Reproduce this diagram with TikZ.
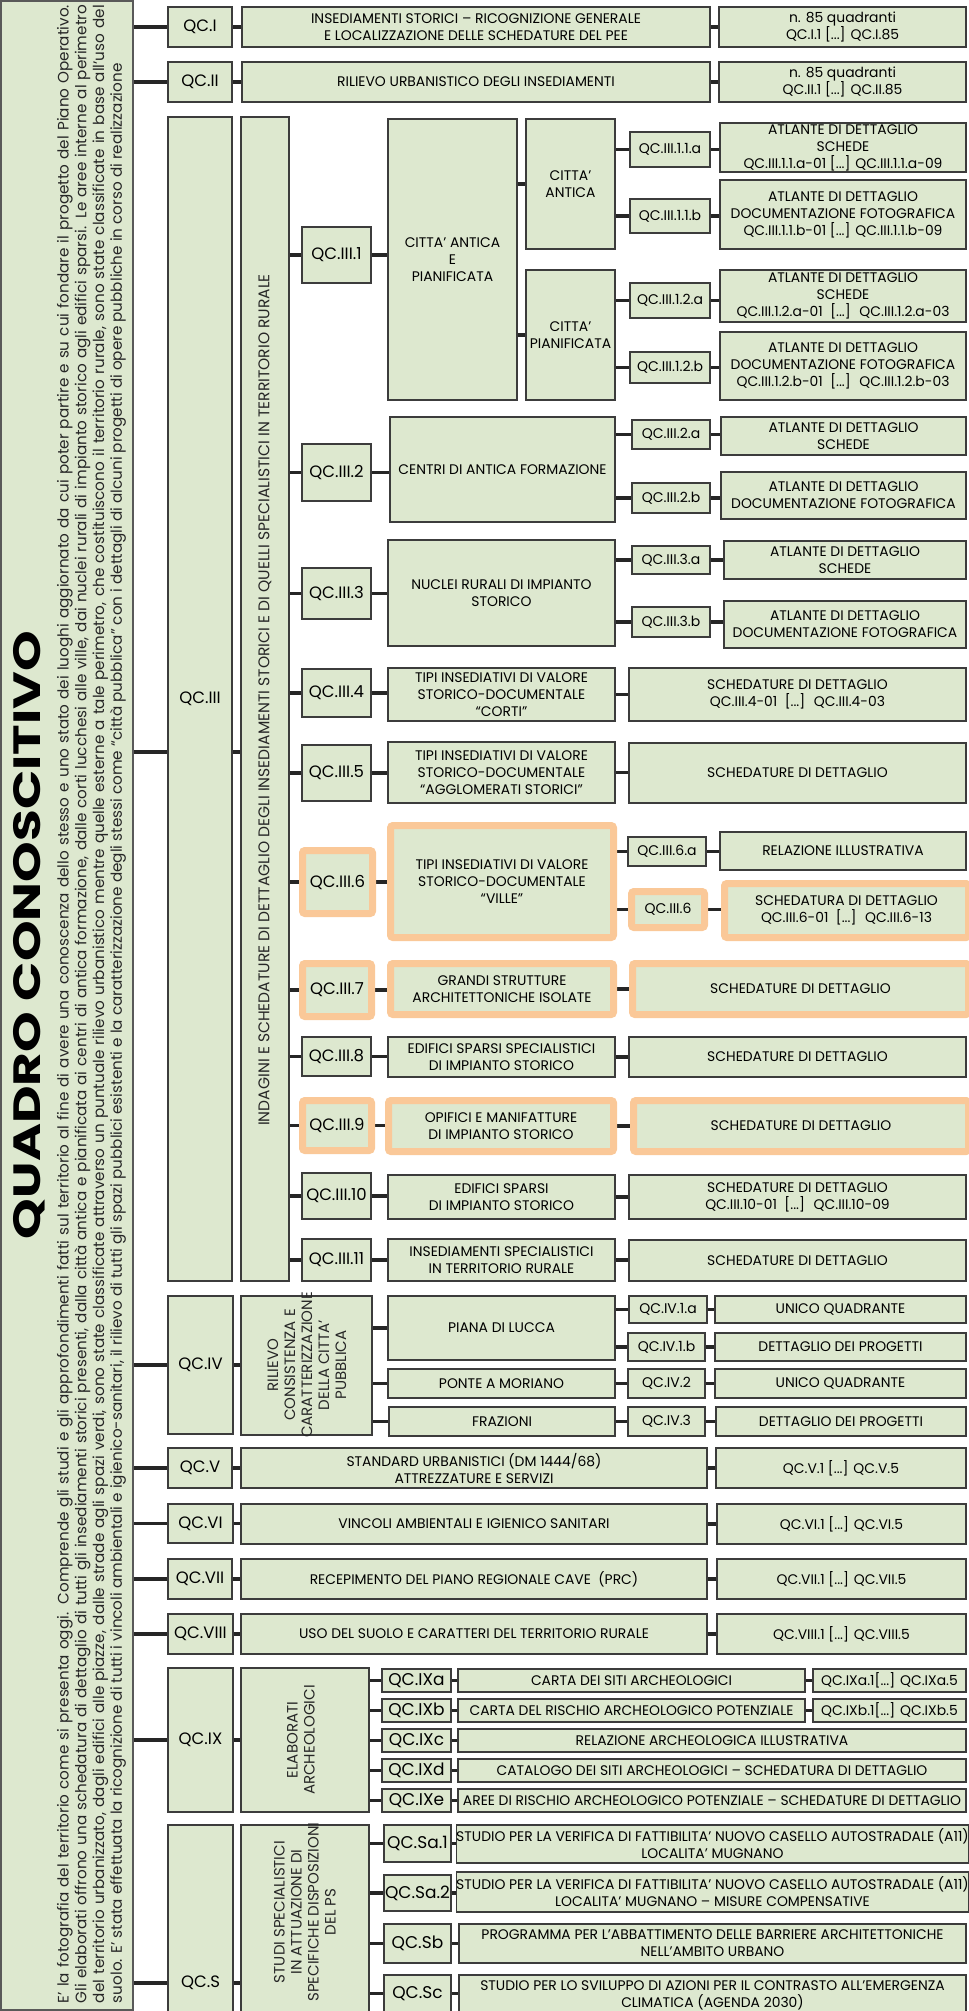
\documentclass[tikz,border=0pt]{standalone}
\usepackage{fontspec}
\setmainfont{Poppins}
\newfontfamily\qtitlefont[FakeStretch=1.36]{Poppins}
\usetikzlibrary{backgrounds}
\definecolor{sage}{HTML}{DDE8CF}
\definecolor{peach}{HTML}{FAC898}
\definecolor{edgegray}{HTML}{3C3C3C}
\newcommand{\qtxt}{\fontsize{13.9}{17}\selectfont}
\newcommand{\qlab}{\fontsize{16.5}{18}\selectfont}
\newcommand{\qsub}{\fontsize{14}{16}\selectfont}
\newcommand{\qbig}{\fontsize{17}{18}\selectfont}
\newcommand{\qvtxt}{\fontsize{15}{17}\selectfont}
\newcommand{\qpar}{\fontsize{15.2}{17.7}\selectfont}
% box from corner (x1,y1) to corner (x2,y2)
\newcommand{\qbox}[7][]{\node[box,minimum width={(#5-#3)*1pt},minimum height={(#6-#4)*1pt},#1] (#2) at ({(#3+#5)/2},{(#4+#6)/2}) {#7};}

\begin{document}
\begin{tikzpicture}[x=1pt,y=-1pt]
	\tikzset{box/.style={draw=edgegray,line width=1.1pt,fill=sage,inner sep=0pt,outer sep=0pt,align=center,font=\qtxt}}
	\tikzset{hl/.style={draw=peach,line width=7pt,rounded corners=2.5pt}}
	\tikzset{lab/.style={font=\qlab}}
	\tikzset{sublab/.style={font=\qsub}}
	\tikzset{biglab/.style={font=\qbig}}
	\tikzset{link/.style={line width=3.5pt,draw=black!85}}
	\tikzset{vtext/.style={rotate=90,align=center,font=\qvtxt,text=black!85}}

	\useasboundingbox (0,0) rectangle (969,2011);
	\clip (0,0) rectangle (969,2011);

	% left panel
	\qbox[draw=gray!70!black,line width=1.2pt]{intro}{1}{1}{133}{2010}{}
	\node[rotate=90,font=\qtitlefont\bfseries\fontsize{38}{38}\selectfont] (title) at (29,935) {QUADRO CONOSCITIVO};
	\node[rotate=90,text width=1998pt,align=justify,font=\qpar,text=black!85,inner sep=0pt] (introtxt) at (91.5,1004)
		{E' la fotografia del territorio come si presenta oggi. Comprende gli studi e gli approfondimenti fatti sul territorio al fine di avere una conoscenza dello stesso e uno stato dei luoghi aggiornato da cui poter partire e su cui fondare il progetto del Piano Operativo.\linebreak
		Gli elaborati offrono una schedatura di dettaglio di tutti gli insediamenti storici presenti, dalla città antica e pianificata ai centri di antica formazione, dalle corti lucchesi alle ville, dai nuclei rurali di impianto storico agli edifici sparsi. Le aree interne al perimetro\linebreak
		del territorio urbanizzato, dagli edifici alle piazze, dalle strade agli spazi verdi, sono state classificate attraverso un puntuale rilievo urbanistico mentre quelle esterne a tale perimetro, che costituiscono il territorio rurale, sono state classificate in base all'uso del\linebreak
		suolo. E' stata effettuata la ricognizione di tutti i vincoli ambientali e igienico-sanitari, il rilievo di tutti gli spazi pubblici esistenti e la caratterizzazione degli stessi come ``città pubblica'' con i dettagli di alcuni progetti di opere pubbliche in corso di realizzazione};

	% QC.I and QC.II
	\qbox[lab]{qI}{168}{7}{232}{47}{QC.I}
	\qbox{dI}{242}{7}{710}{47}{INSEDIAMENTI STORICI – RICOGNIZIONE GENERALE\\E LOCALIZZAZIONE DELLE SCHEDATURE DEL PEE}
	\qbox{oI}{719}{7}{966}{47}{n. 85 quadranti\\QC.I.1 [...] QC.I.85}
	\qbox[lab]{qII}{168}{62}{232}{102}{QC.II}
	\qbox{dII}{242}{62}{710}{102}{RILIEVO URBANISTICO DEGLI INSEDIAMENTI}
	\qbox{oII}{719}{62}{966}{102}{n. 85 quadranti\\QC.II.1 [...] QC.II.85}

	% QC.III
	\qbox[lab]{qIII}{168}{117}{232}{1281}{QC.III}
	\qbox{ind}{241}{117}{289}{1281}{}
	\node[vtext,font=\fontsize{15.5}{16}\selectfont] (indtxt) at (265,700) {INDAGINI E SCHEDATURE DI DETTAGLIO DEGLI INSEDIAMENTI STORICI E DI QUELLI SPECIALISTICI IN TERRITORIO RURALE};
	\coordinate (jIII) at (150,752);

	\qbox[lab]{q3n1}{302}{227}{371}{283}{QC.III.1}
	\qbox{caep}{388}{119}{517}{400}{CITTA' ANTICA\\E\\PIANIFICATA}
	\qbox{ca}{526}{119}{615}{249}{CITTA'\\ANTICA}
	\qbox{cp}{526}{270}{615}{400}{CITTA'\\PIANIFICATA}
	\qbox[sublab]{q3n1aa}{630}{132}{710}{167}{QC.III.1.1.a}
	\qbox[sublab]{q3n1ab}{630}{199}{710}{233}{QC.III.1.1.b}
	\qbox[sublab]{q3n1ba}{630}{283}{710}{318}{QC.III.1.2.a}
	\qbox[sublab]{q3n1bb}{630}{352}{710}{383}{QC.III.1.2.b}
	\qbox{o3n1aa}{720}{123}{966}{172}{ATLANTE DI DETTAGLIO\\SCHEDE\\QC.III.1.1.a-01 [...] QC.III.1.1.a-09}
	\qbox{o3n1ab}{720}{180}{966}{249}{ATLANTE DI DETTAGLIO\\DOCUMENTAZIONE FOTOGRAFICA\\QC.III.1.1.b-01 [...] QC.III.1.1.b-09}
	\qbox{o3n1ba}{720}{270}{966}{322}{ATLANTE DI DETTAGLIO\\SCHEDE\\QC.III.1.2.a-01 \ [...] \ QC.III.1.2.a-03}
	\qbox{o3n1bb}{720}{332}{966}{400}{ATLANTE DI DETTAGLIO\\DOCUMENTAZIONE FOTOGRAFICA\\QC.III.1.2.b-01 \ [...] \ QC.III.1.2.b-03}

	\qbox[lab]{q3n2}{302}{444}{371}{501}{QC.III.2}
	\qbox{centri}{390}{417}{615}{522}{CENTRI DI ANTICA FORMAZIONE}
	\qbox[sublab]{q3n2a}{632}{420}{710}{449}{QC.III.2.a}
	\qbox[sublab]{q3n2b}{632}{483}{710}{513}{QC.III.2.b}
	\qbox{o3n2a}{721}{417}{966}{455}{ATLANTE DI DETTAGLIO\\SCHEDE}
	\qbox{o3n2b}{721}{472}{966}{519}{ATLANTE DI DETTAGLIO\\DOCUMENTAZIONE FOTOGRAFICA}

	\qbox[lab]{q3n3}{302}{568}{371}{619}{QC.III.3}
	\qbox{nuclei}{388}{540}{615}{646}{NUCLEI RURALI DI IMPIANTO\\STORICO}
	\qbox[sublab]{q3n3a}{632}{546}{710}{574}{QC.III.3.a}
	\qbox[sublab]{q3n3b}{632}{607}{710}{637}{QC.III.3.b}
	\qbox{o3n3a}{724}{541}{966}{579}{ATLANTE DI DETTAGLIO\\SCHEDE}
	\qbox{o3n3b}{724}{601}{966}{648}{ATLANTE DI DETTAGLIO\\DOCUMENTAZIONE FOTOGRAFICA}

	\qbox[lab]{q3n4}{302}{669}{371}{717}{QC.III.4}
	\qbox{tipi4}{388}{668}{615}{721}{TIPI INSEDIATIVI DI VALORE\\STORICO-DOCUMENTALE\\“CORTI”}
	\qbox{o3n4}{629}{668}{966}{721}{SCHEDATURE DI DETTAGLIO\\QC.III.4-01 \ [...] \ QC.III.4-03}

	\qbox[lab]{q3n5}{302}{745}{371}{801}{QC.III.5}
	\qbox{tipi5}{388}{742}{615}{803}{TIPI INSEDIATIVI DI VALORE\\STORICO-DOCUMENTALE\\“AGGLOMERATI STORICI”}
	\qbox{o3n5}{629}{743}{966}{803}{SCHEDATURE DI DETTAGLIO}

	\qbox[lab,hl]{q3n6}{302.5}{850.5}{372.5}{913.5}{QC.III.6}
	\qbox[hl]{ville}{390.5}{825.5}{613.5}{937.5}{TIPI INSEDIATIVI DI VALORE\\STORICO-DOCUMENTALE\\“VILLE”}
	\qbox[sublab]{q3n6a}{628}{837}{706}{866}{QC.III.6.a}
	\qbox{o3n6a}{720}{832}{966}{870}{RELAZIONE ILLUSTRATIVA}
	\qbox[sublab,hl]{q3n6b}{631.5}{891.5}{704.5}{927.5}{QC.III.6}
	\qbox[hl]{o3n6b}{724.5}{883.5}{968.5}{937.5}{SCHEDATURA DI DETTAGLIO\\QC.III.6-01 \ [...] \ QC.III.6-13}

	\qbox[lab,hl]{q3n7}{302.5}{963.5}{371.5}{1016.5}{QC.III.7}
	\qbox[hl]{grandi}{390.5}{963.5}{613.5}{1014.5}{GRANDI STRUTTURE\\ARCHITETTONICHE ISOLATE}
	\qbox[hl]{o3n7}{632.5}{963.5}{968.5}{1014.5}{SCHEDATURE DI DETTAGLIO}

	\qbox[lab]{q3n8}{302}{1037}{371}{1076}{QC.III.8}
	\qbox{edsp}{388}{1037}{615}{1077}{EDIFICI SPARSI SPECIALISTICI\\DI IMPIANTO STORICO}
	\qbox{o3n8}{629}{1037}{966}{1077}{SCHEDATURE DI DETTAGLIO}

	\qbox[lab,hl]{q3n9}{302.5}{1100.5}{371.5}{1150.5}{QC.III.9}
	\qbox[hl]{opif}{388.5}{1100.5}{613.5}{1151.5}{OPIFICI E MANIFATTURE\\DI IMPIANTO STORICO}
	\qbox[hl]{o3n9}{633.5}{1100.5}{968.5}{1151.5}{SCHEDATURE DI DETTAGLIO}

	\qbox[lab]{q3n10}{302}{1173}{371}{1219}{QC.III.10}
	\qbox{edsp2}{388}{1175}{615}{1219}{EDIFICI SPARSI\\DI IMPIANTO STORICO}
	\qbox{o3n10}{629}{1175}{966}{1219}{SCHEDATURE DI DETTAGLIO\\QC.III.10-01 \ [...] \ QC.III.10-09}

	\qbox[lab]{q3n11}{302}{1239}{371}{1281}{QC.III.11}
	\qbox{insp}{388}{1239}{615}{1281}{INSEDIAMENTI SPECIALISTICI\\IN TERRITORIO RURALE}
	\qbox{o3n11}{629}{1240}{966}{1281}{SCHEDATURE DI DETTAGLIO}

	% QC.IV
	\qbox[lab]{qIV}{168}{1296}{233}{1434}{QC.IV}
	\qbox{ril}{241}{1296}{372}{1435}{}
	\node[vtext] (riltxt) at (307,1365) {RILIEVO\\CONSISTENZA E\\CARATTERIZZAZIONE\\DELLA CITTA'\\PUBBLICA};
	\qbox{piana}{388}{1296}{615}{1360}{PIANA DI LUCCA}
	\qbox[sublab]{q4n1a}{629}{1296}{707}{1323}{QC.IV.1.a}
	\qbox[sublab]{q4n1b}{628}{1333}{705}{1361}{QC.IV.1.b}
	\qbox{o4n1a}{715}{1296}{966}{1323}{UNICO QUADRANTE}
	\qbox{o4n1b}{715}{1333}{966}{1361}{DETTAGLIO DEI PROGETTI}
	\qbox{ponte}{388}{1369}{615}{1398}{PONTE A MORIANO}
	\qbox[sublab]{q4n2}{628}{1369}{705}{1398}{QC.IV.2}
	\qbox{o4n2}{715}{1369}{966}{1398}{UNICO QUADRANTE}
	\qbox{fraz}{389}{1407}{615}{1436}{FRAZIONI}
	\qbox[sublab]{q4n3}{628}{1407}{705}{1436}{QC.IV.3}
	\qbox{o4n3}{716}{1407}{966}{1436}{DETTAGLIO DEI PROGETTI}

	% QC.V -- QC.VIII
	\qbox[lab]{qV}{168}{1448}{232}{1488}{QC.V}
	\qbox{dV}{241}{1448}{707}{1488}{STANDARD URBANISTICI (DM 1444/68)\\ATTREZZATURE E SERVIZI}
	\qbox{oV}{716}{1448}{966}{1488}{QC.V.1 [...] QC.V.5}
	\qbox[lab]{qVI}{168}{1504}{233}{1543}{QC.VI}
	\qbox{dVI}{241}{1504}{707}{1544}{VINCOLI AMBIENTALI E IGIENICO SANITARI}
	\qbox{oVI}{717}{1504}{966}{1544}{QC.VI.1 [...] QC.VI.5}
	\qbox[lab]{qVII}{168}{1559}{232}{1599}{QC.VII}
	\qbox{dVII}{241}{1559}{707}{1599}{RECEPIMENTO DEL PIANO REGIONALE CAVE \ (PRC)}
	\qbox{oVII}{717}{1559}{966}{1599}{QC.VII.1 [...] QC.VII.5}
	\qbox[lab]{qVIII}{168}{1614}{233}{1654}{QC.VIII}
	\qbox{dVIII}{241}{1614}{707}{1654}{USO DEL SUOLO E CARATTERI DEL TERRITORIO RURALE}
	\qbox{oVIII}{717}{1614}{966}{1654}{QC.VIII.1 [...] QC.VIII.5}

	% QC.IX
	\qbox[lab]{qIX}{168}{1668}{233}{1812}{QC.IX}
	\qbox{elab}{241}{1668}{369}{1812}{}
	\node[vtext] (elabtxt) at (301,1740) {ELABORATI\\ARCHEOLOGICI};
	\qbox[biglab]{q9a}{382}{1669}{451}{1692}{QC.IXa}
	\qbox[biglab]{q9b}{382}{1699}{451}{1722}{QC.IXb}
	\qbox[biglab]{q9c}{382}{1729}{451}{1752}{QC.IXc}
	\qbox[biglab]{q9d}{382}{1759}{451}{1782}{QC.IXd}
	\qbox[biglab]{q9e}{382}{1789}{451}{1812}{QC.IXe}
	\qbox{d9a}{458}{1669}{805}{1692}{CARTA DEI SITI ARCHEOLOGICI}
	\qbox{d9b}{458}{1699}{805}{1722}{CARTA DEL RISCHIO ARCHEOLOGICO POTENZIALE}
	\qbox{d9c}{458}{1729}{966}{1752}{RELAZIONE ARCHEOLOGICA ILLUSTRATIVA}
	\qbox{d9d}{458}{1759}{966}{1782}{CATALOGO DEI SITI ARCHEOLOGICI – SCHEDATURA DI DETTAGLIO}
	\qbox{d9e}{458}{1789}{966}{1812}{AREE DI RISCHIO ARCHEOLOGICO POTENZIALE – SCHEDATURE DI DETTAGLIO}
	\qbox{o9a}{813}{1669}{966}{1692}{QC.IXa.1[...] QC.IXa.5}
	\qbox{o9b}{813}{1699}{966}{1722}{QC.IXb.1[...] QC.IXb.5}

	% QC.S
	\qbox[lab]{qS}{168}{1825}{233}{2141}{QC.S}
	\qbox{studi}{241}{1825}{369}{2141}{}
	\node[vtext] (studitxt) at (305,1912) {STUDI SPECIALISTICI\\IN ATTUAZIONE DI\\SPECIFICHE DISPOSIZIONI\\DEL PS};
	\qbox[biglab]{qSa1}{384}{1825}{451}{1862}{QC.Sa.1}
	\qbox[biglab]{qSa2}{384}{1875}{451}{1911}{QC.Sa.2}
	\qbox[biglab]{qSb}{384}{1924}{451}{1963}{QC.Sb}
	\qbox[biglab]{qSc}{384}{1975}{451}{2012}{QC.Sc}
	\qbox{dSa1}{459}{1825}{966}{1863}{STUDIO PER LA VERIFICA DI FATTIBILITA' NUOVO CASELLO AUTOSTRADALE (A11)\\LOCALITA' MUGNANO}
	\qbox{dSa2}{459}{1872}{966}{1912}{STUDIO PER LA VERIFICA DI FATTIBILITA' NUOVO CASELLO AUTOSTRADALE (A11)\\LOCALITA' MUGNANO – MISURE COMPENSATIVE}
	\qbox{dSb}{459}{1924}{966}{1963}{PROGRAMMA PER L'ABBATTIMENTO DELLE BARRIERE ARCHITETTONICHE\\NELL'AMBITO URBANO}
	\qbox{dSc}{459}{1975}{966}{2015}{STUDIO PER LO SVILUPPO DI AZIONI PER IL CONTRASTO ALL'EMERGENZA\\CLIMATICA (AGENDA 2030)}

	% connectors
	\begin{scope}[on background layer]
		\foreach \n in {qI,qII,qIV,qV,qVI,qVII,qVIII,qIX,qS}
			\draw[link] (intro.east |- \n) -- (\n.west);
		\draw[link] (intro.east |- jIII) -- (qIII.west |- jIII);
		\draw[link] (qIII.east |- jIII) -- (ind.west |- jIII);
		% same height as the left box
		\foreach \a/\b in {qI/dI,dI/oI,qII/dII,dII/oII,q3n1/caep,q3n2/centri,q3n3/nuclei,
				q3n4/tipi4,tipi4/o3n4,q3n5/tipi5,tipi5/o3n5,q3n6/ville,q3n7/grandi,grandi/o3n7,
				q3n8/edsp,edsp/o3n8,q3n9/opif,opif/o3n9,q3n10/edsp2,edsp2/o3n10,q3n11/insp,insp/o3n11,
				q3n1aa/o3n1aa,q3n1ab/o3n1ab,q3n1ba/o3n1ba,q3n1bb/o3n1bb,q3n2a/o3n2a,q3n2b/o3n2b,
				q3n3a/o3n3a,q3n3b/o3n3b,q3n6a/o3n6a,q3n6b/o3n6b,qIV/ril,q4n1a/o4n1a,q4n1b/o4n1b,
				ponte/q4n2,q4n2/o4n2,fraz/q4n3,q4n3/o4n3,qV/dV,dV/oV,qVI/dVI,dVI/oVI,qVII/dVII,dVII/oVII,
				qVIII/dVIII,dVIII/oVIII,qIX/elab,q9a/d9a,d9a/o9a,q9b/d9b,d9b/o9b,q9c/d9c,q9d/d9d,q9e/d9e,
				qS/studi,qSa1/dSa1,qSa2/dSa2,qSb/dSb,qSc/dSc}
			\draw[link] (\a.east) -- (\b.west |- \a.east);
		% same height as the right box
		\foreach \a/\b in {ind/q3n1,ind/q3n2,ind/q3n3,ind/q3n4,ind/q3n5,ind/q3n6,ind/q3n7,ind/q3n8,
				ind/q3n9,ind/q3n10,ind/q3n11,caep/ca,caep/cp,ca/q3n1aa,ca/q3n1ab,cp/q3n1ba,cp/q3n1bb,
				centri/q3n2a,centri/q3n2b,nuclei/q3n3a,nuclei/q3n3b,ville/q3n6a,ville/q3n6b,
				ril/piana,ril/ponte,ril/fraz,piana/q4n1a,piana/q4n1b,
				elab/q9a,elab/q9b,elab/q9c,elab/q9d,elab/q9e,studi/qSa1,studi/qSa2,studi/qSb,studi/qSc}
			\draw[link] (\a.east |- \b) -- (\b.west);
	\end{scope}
\end{tikzpicture}
\end{document}
